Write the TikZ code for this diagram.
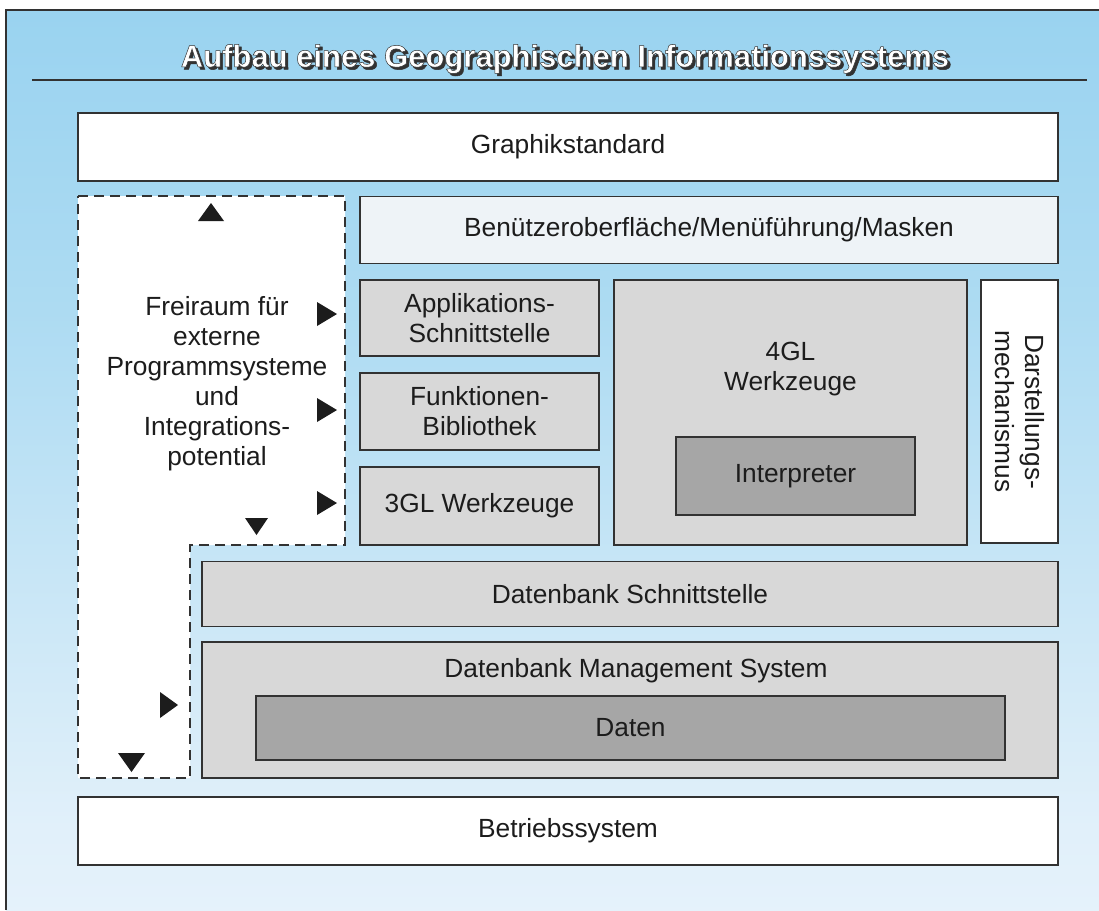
\documentclass[tikz,border=0pt]{standalone}
\usepackage{fontspec}
\setmainfont{Liberation Sans}
\newfontfamily\titlefont[FakeBold=1.6]{Liberation Sans Bold}
\usetikzlibrary{positioning}
\definecolor{gisline}{RGB}{50,50,50}
\definecolor{gisgrey}{RGB}{216,216,216}
\definecolor{gisdark}{RGB}{166,166,166}
\definecolor{gispale}{RGB}{238,243,247}
\definecolor{gistext}{RGB}{28,28,28}
\pgfdeclareverticalshading{gissky}{100bp}{
  rgb(0bp)=(0.98,0.99,1);
  rgb(30bp)=(0.88,0.94,0.98);
  rgb(58bp)=(0.68,0.86,0.95);
  rgb(100bp)=(0.49,0.78,0.93)}
\newcommand{\gistitel}{Aufbau eines Geographischen Informationssystems}

\begin{document}
\begin{tikzpicture}[
    x=1pt, y=-1pt,
    box/.style={draw=gisline, line width=1.4pt, inner sep=0pt, text=gistext,
                font=\fontsize{26.3}{30}\selectfont, align=center},
    whitebox/.style={box, fill=white},
    palebox/.style={box, fill=gispale},
    greybox/.style={box, fill=gisgrey},
    darkbox/.style={box, fill=gisdark},
    label/.style={text=gistext, font=\fontsize{26.3}{30}\selectfont, align=center},
    titletext/.style={font=\titlefont\fontsize{31}{36}\selectfont}
]
\useasboundingbox (0,0) rectangle (1099,910);
% background and frame
\fill[white] (0,0) rectangle (1099,910);
\shade[shading=gissky] (6,10) rectangle (1099,910);
\draw[gisline, line width=1.2pt] (6,910) -- (6,10) -- (1099,10);

% title, white letters with dark outline and shadow
\node[titletext, text=gisline] (titleshadow) at (567.5,61.5) {\gistitel};
\node[titletext, text=white] (title) at (565,59)
  {\special{pdf:code 0.2 0.2 0.2 RG 1 1 1 rg}\gistitel};
\draw[gisline, line width=1.4pt] (32,80) -- (1087,80);

% layers
\node[whitebox, minimum width=980pt, minimum height=68pt] (graphik) at (568,147) {Graphikstandard};
\node[palebox, minimum width=698pt, minimum height=67pt] (benutzer) at (709,230) {Benützeroberfläche/Menüführung/Masken};
\node[greybox, minimum width=239pt, minimum height=76pt] (appl) at (479.5,318) {Applikations-\\Schnittstelle};
\node[greybox, minimum width=239pt, minimum height=77pt] (funk) at (479.5,411.5) {Funktionen-\\Bibliothek};
\node[greybox, minimum width=239pt, minimum height=78pt] (gl3) at (479.5,506) {3GL Werkzeuge};
\node[greybox, minimum width=353pt, minimum height=265pt] (gl4) at (790.5,412.5) {};
\node[label] (gl4txt) at (790.5,369) {4GL\\Werkzeuge};
\node[darkbox, minimum width=239pt, minimum height=78pt] (interp) at (795.5,476) {Interpreter};
\node[whitebox, rotate=-90, minimum width=263pt, minimum height=77pt] (darst) at (1019.5,411.5) {Darstellungs-\\mechanismus};
\node[greybox, minimum width=856pt, minimum height=65pt] (dbschnitt) at (630,594) {Datenbank Schnittstelle};
\node[greybox, minimum width=856pt, minimum height=136pt] (dbms) at (630,710) {};
\node[label] (dbmstxt) at (636,671) {Datenbank Management System};
\node[darkbox, minimum width=749pt, minimum height=64pt] (daten) at (630.5,728) {Daten};
\node[whitebox, minimum width=980pt, minimum height=68pt] (betrieb) at (568,831) {Betriebssystem};

% free space for external systems
\draw[gisline, line width=1.4pt, dash pattern=on 10pt off 6pt, fill=white]
  (78,196) -- (345,196) -- (345,545) -- (190,545) -- (190,778) -- (78,778) -- cycle;
\node[label] (frei) at (217,384) {Freiraum für\\externe\\Programmsysteme\\und\\Integrations-\\potential};

% markers
\fill[gistext] (198,221) -- (224,221) -- (211,203) -- cycle;
\foreach \ty in {314,410,503}
  \fill[gistext] (317,\ty-12) -- (317,\ty+12) -- (337,\ty) -- cycle;
\fill[gistext] (160,692) -- (160,718) -- (178,705) -- cycle;
\fill[gistext] (245,518) -- (268,518) -- (256.5,535) -- cycle;
\fill[gistext] (118,753) -- (145,753) -- (131.5,772) -- cycle;
\end{tikzpicture}
\end{document}
